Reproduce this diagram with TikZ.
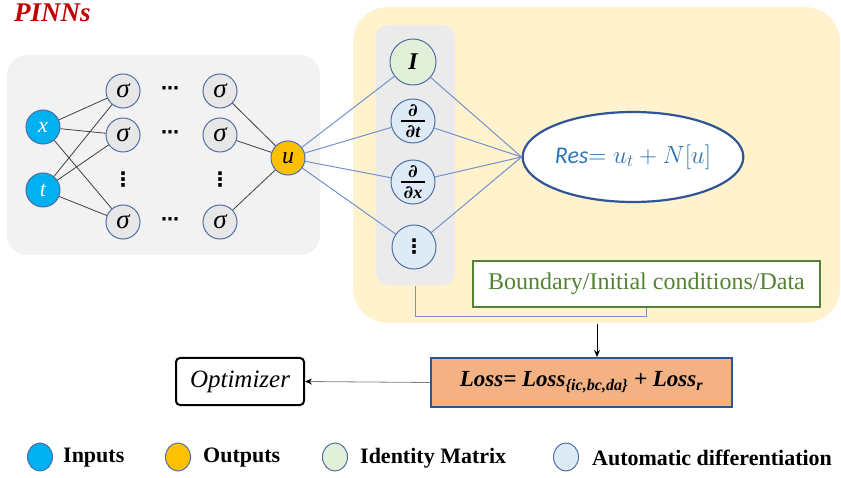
\documentclass[tikz,border=0pt]{standalone}
\usepackage{fontspec}
\setmainfont{Liberation Serif}
\newfontfamily\carlito{Carlito}
\newfontfamily\dejavu{DejaVu Sans}
\newfontfamily\dejaserif{DejaVu Serif}
\usetikzlibrary{shapes.geometric,arrows.meta}
\definecolor{pinnred}{HTML}{C00000}
\definecolor{panelgray}{HTML}{F2F2F2}
\definecolor{colgray}{HTML}{EBEBEB}
\definecolor{panelyellow}{HTML}{FFF2CC}
\definecolor{inpfill}{HTML}{00B0F0}
\definecolor{outfill}{HTML}{FFC000}
\definecolor{sigfill}{HTML}{E7E7E7}
\definecolor{idfill}{HTML}{E2F0D9}
\definecolor{adfill}{HTML}{DEEBF7}
\definecolor{nodeborder}{HTML}{4F6FA6}
\definecolor{blueline}{HTML}{7392CC}
\definecolor{darkblue}{HTML}{2F5597}
\definecolor{restext}{HTML}{2E75B6}
\definecolor{bndgreen}{HTML}{548235}
\definecolor{lossfill}{HTML}{F4B183}
\definecolor{netline}{HTML}{404040}
\newcommand{\myfrac}[1]{\shortstack{{\dejaserif\bfseries\itshape ∂}\\[1pt]\rule{24pt}{2pt}\\[0pt]{\dejaserif\bfseries ∂}#1}}
\begin{document}
\begin{tikzpicture}[x=1pt,y=-1pt,
  neuron/.style={circle,draw=nodeborder,line width=1pt,inner sep=0pt,minimum size=34pt},
  inp/.style={neuron,fill=inpfill,text=white,font=\fontsize{22}{22}\selectfont\itshape},
  outp/.style={neuron,fill=outfill,font=\fontsize{24}{24}\selectfont\itshape},
  sig/.style={neuron,fill=sigfill,font=\fontsize{27}{27}\selectfont\itshape},
  idn/.style={neuron,fill=idfill,minimum size=46pt,font=\fontsize{24}{24}\selectfont\itshape\bfseries},
  adn/.style={neuron,fill=adfill,minimum size=44pt,font=\fontsize{18}{18}\selectfont\itshape\bfseries},
  vdotsn/.style={inner sep=0pt,font=\fontsize{20}{20}\selectfont\dejavu\bfseries},
  hdotsn/.style={inner sep=0pt,font=\fontsize{18}{18}\selectfont\dejavu\bfseries},
  net/.style={draw=netline,line width=0.8pt},
  bl/.style={draw=blueline,line width=1pt},
  legc/.style={ellipse,draw=nodeborder,line width=1pt,minimum width=25pt,minimum height=28pt,inner sep=0pt},
  legt/.style={anchor=west,inner sep=0pt,font=\fontsize{22}{22}\selectfont\bfseries}
]
\useasboundingbox (0,0) rectangle (841,478);

% panels
\fill[panelgray,rounded corners=20pt] (7,55) rectangle (320,255);
\fill[panelyellow,rounded corners=35pt] (353,7) rectangle (840,323);
\fill[colgray,rounded corners=12pt] (376,25) rectangle (455,285);

% title
\node[anchor=west,inner sep=0pt,text=pinnred,font=\fontsize{27}{27}\selectfont\bfseries\itshape] (title) at (14,13) {PINNs};

% network
\node[inp] (x) at (43,127) {x};
\node[inp] (t) at (43,190) {t};
\node[sig] (s11) at (123,91) {σ};
\node[sig] (s12) at (123,135) {σ};
\node[vdotsn] (v1) at (123,180) {⋮};
\node[sig] (s14) at (123,222) {σ};
\node[sig] (s21) at (220,91) {σ};
\node[sig] (s22) at (220,135) {σ};
\node[vdotsn] (v2) at (220,180) {⋮};
\node[sig] (s24) at (220,222) {σ};
\node[hdotsn] (h1) at (170,91) {⋯};
\node[hdotsn] (h2) at (170,135) {⋯};
\node[hdotsn] (h4) at (170,222) {⋯};
\node[outp] (u) at (288,158) {u};

\foreach \a in {x,t} \foreach \b in {s11,s12,s14} \draw[net] (\a) -- (\b);
\foreach \a in {s21,s22,s24} \draw[net] (\a) -- (u);

% operator column
\node[idn] (nI) at (413,62) {I};
\node[adn] (ndt) at (413,121) {\myfrac{t}};
\node[adn] (ndx) at (413,182) {\myfrac{x}};
\node[adn,font=\fontsize{20}{20}\selectfont\dejavu\bfseries] (nad) at (414,247) {⋮};

\node[ellipse,draw=darkblue,line width=2.2pt,fill=white,minimum width=194pt,minimum height=90pt,inner sep=0pt,text=restext,font=\fontsize{24}{24}\selectfont] (res) at (633,157) {{\carlito\itshape Res}$=u_t+N[u]$};

\foreach \n in {nI,ndt,ndx,nad} {
  \draw[bl] (u) -- (\n);
  \draw[bl] (\n) -- (res.west);
}

% boundary box
\node[draw=bndgreen,line width=2.2pt,fill=white,minimum width=347pt,minimum height=46pt,inner sep=0pt,text=bndgreen,font=\fontsize{24}{24}\selectfont] (bnd) at (646.5,284) {Boundary/Initial conditions/Data};

\coordinate (colb) at (415,286);
\draw[bl] (colb) -- (415,317) -| (bnd.south);

% loss and optimizer
\node[draw=darkblue,line width=2pt,fill=lossfill,minimum width=301pt,minimum height=49pt,inner sep=0pt,font=\fontsize{23}{23}\selectfont\bfseries\itshape] (loss) at (581.5,382.5) {Loss= Loss\textsubscript{\{ic,bc,da\}} + Loss\textsubscript{r}};
\node[draw=black,line width=2pt,rounded corners=4pt,fill=white,minimum width=128pt,minimum height=47pt,inner sep=0pt,font=\fontsize{25}{25}\selectfont\itshape] (opt) at (240,381.5) {Optimizer};

\coordinate (ys) at (597,324);
\draw[draw=black,line width=0.8pt,-{Stealth[length=7pt,width=6pt]}] (ys) -- (ys |- loss.north);
\draw[draw=gray,line width=0.8pt,-{Stealth[length=7pt,width=6pt,color=black]}] (loss.west) -- (opt.east);

% legend
\node[legc,fill=inpfill] (l1) at (40,457) {};
\node[legt] (l1t) at (63,458) {Inputs};
\node[legc,fill=outfill] (l2) at (178,457) {};
\node[legt] (l2t) at (203,458) {Outputs};
\node[legc,fill=idfill] (l3) at (335,457) {};
\node[legt] (l3t) at (360,458) {Identity Matrix};
\node[legc,fill=adfill] (l4) at (566,457) {};
\node[legt] (l4t) at (592,458) {Automatic differentiation};
\end{tikzpicture}
\end{document}
